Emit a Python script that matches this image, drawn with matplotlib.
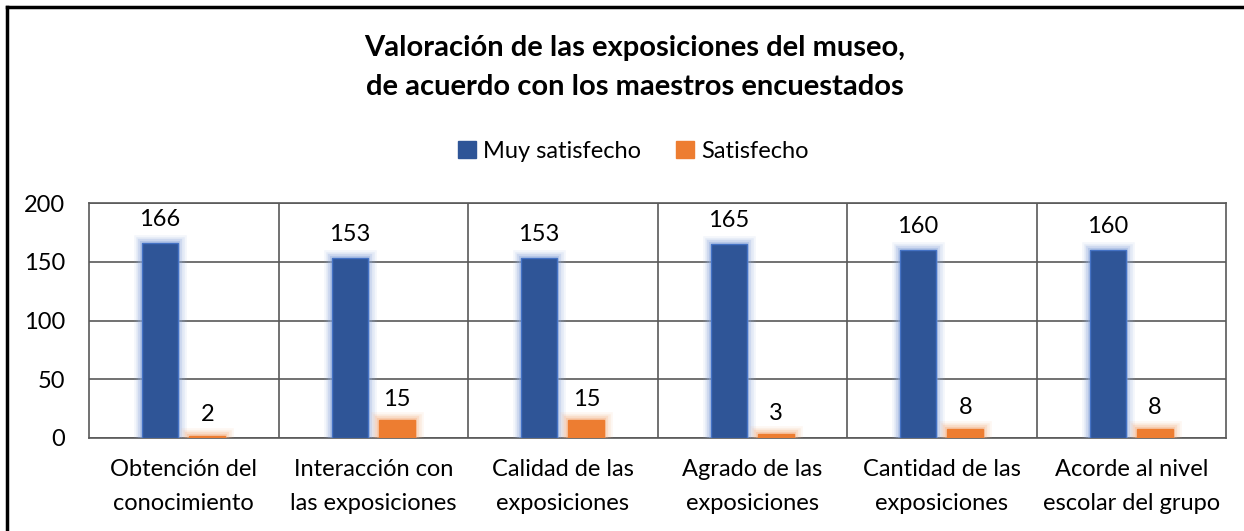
import matplotlib
matplotlib.use("Agg")
import matplotlib.pyplot as plt
import numpy as np
from matplotlib import patheffects as pe
from matplotlib.lines import Line2D

categories = ["Obtención del\nconocimiento", "Interacción con\nlas exposiciones",
              "Calidad de las\nexposiciones", "Agrado de las\nexposiciones",
              "Cantidad de las\nexposiciones", "Acorde al nivel\nescolar del grupo"]
muy_satisfecho = [166, 153, 153, 165, 160, 160]
satisfecho = [2, 15, 15, 3, 8, 8]
series_names = ["Muy satisfecho", "Satisfecho"]
yticks = [0, 50, 100, 150, 200]

plt.rcParams['font.family'] = ['Lato', 'DejaVu Sans']

fig = plt.figure(figsize=(12.44, 5.31), dpi=100)
ax = fig.add_axes([89/1244, 1-438/531, (1226-89)/1244, (438-203)/531])

x = np.arange(len(categories))
w = 0.19
blue = "#2F5597"
orange = "#ED7D31"
FS = 17

def glow(color):
    return [pe.Stroke(linewidth=12, foreground=color, alpha=0.10),
            pe.Stroke(linewidth=9, foreground=color, alpha=0.15),
            pe.Stroke(linewidth=6, foreground=color, alpha=0.25),
            pe.Stroke(linewidth=3, foreground=color, alpha=0.4),
            pe.Normal()]

b1 = ax.bar(x - 0.125, muy_satisfecho, w, color=blue, zorder=3,
            edgecolor="#4472C4", linewidth=1)
b2 = ax.bar(x + 0.125, satisfecho, w, color=orange, zorder=3,
            edgecolor=orange, linewidth=1)
for r in b1:
    r.set_path_effects(glow("#8FAADC"))
for r in b2:
    r.set_path_effects(glow("#F4B183"))

for r, v in zip(b1, muy_satisfecho):
    ax.text(r.get_x() + r.get_width()/2, v + 11, str(v), ha='center', va='bottom', fontsize=FS)
for r, v in zip(b2, satisfecho):
    ax.text(r.get_x() + r.get_width()/2, v + 9, str(v), ha='center', va='bottom', fontsize=FS)

ax.set_xlim(-0.5, len(categories) - 0.5)
ax.set_ylim(0, 200)
ax.set_yticks(yticks)
ax.set_yticklabels([str(t) for t in yticks], fontsize=FS)
ax.set_xticks(x)
ax.set_xticklabels(categories, fontsize=FS, linespacing=1.75)
ax.tick_params(axis='both', length=0)
ax.tick_params(axis='x', pad=15)
ax.tick_params(axis='y', pad=17)

gridc = "#595959"
for t in yticks:
    ax.axhline(t, color=gridc, lw=1.2, zorder=1)
for b in np.arange(0.5, len(categories) - 0.5, 1):
    ax.axvline(b, color=gridc, lw=1.2, zorder=1)
for s in ax.spines.values():
    s.set_color(gridc)
    s.set_linewidth(1.2)

fig.text(0.51, 1-67.5/531, "Valoración de las exposiciones del museo,\nde acuerdo con los maestros encuestados",
         ha='center', va='center', fontsize=21, fontweight='bold', linespacing=1.65)

handles = [plt.Rectangle((0, 0), 1, 1, color=blue), plt.Rectangle((0, 0), 1, 1, color=orange)]
fig.legend(handles, series_names, loc='center', bbox_to_anchor=(0.509, 1-151/531), ncol=2,
           frameon=False, fontsize=FS, handlelength=0.75, handleheight=0.75,
           handletextpad=0.3, columnspacing=1.5)

fig.add_artist(Line2D([7/1244, 1], [1-7/531, 1-7/531], color='black', lw=2.5, transform=fig.transFigure))
fig.add_artist(Line2D([7/1244, 7/1244], [0, 1-7/531], color='black', lw=2.5, transform=fig.transFigure))

fig.savefig("out.png", dpi=100)
